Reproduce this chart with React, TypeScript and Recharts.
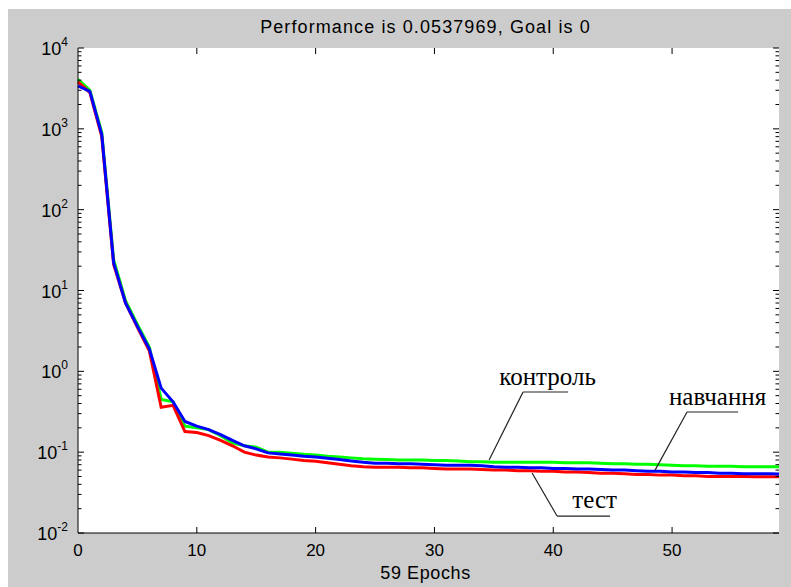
import React from 'react';
import { LineChart, Line, XAxis, YAxis, ReferenceLine, ReferenceDot } from 'recharts';

const epochs = [0,1,2,3,4,5,6,7,8,9,10,11,12,13,14,15,16,17,18,19,20,21,22,23,24,25,26,27,28,29,30,31,32,33,34,35,36,37,38,39,40,41,42,43,44,45,46,47,48,49,50,51,52,53,54,55,56,57,58,59];

const training = [3400,2900,850,22,7,3.6,1.9,0.62,0.42,0.24,0.21,0.19,0.165,0.14,0.12,0.11,0.098,0.095,0.092,0.089,0.087,0.084,0.081,0.078,0.075,0.073,0.073,0.072,0.072,0.071,0.07,0.069,0.069,0.069,0.068,0.066,0.065,0.065,0.064,0.064,0.063,0.063,0.062,0.062,0.061,0.06,0.06,0.059,0.058,0.058,0.057,0.057,0.056,0.056,0.055,0.055,0.054,0.054,0.054,0.0538];

const validation = [4100,3000,900,24,7.5,3.8,2.0,0.45,0.42,0.21,0.2,0.19,0.16,0.13,0.12,0.115,0.1,0.1,0.097,0.094,0.092,0.089,0.087,0.085,0.083,0.082,0.081,0.08,0.08,0.08,0.079,0.079,0.078,0.076,0.076,0.075,0.075,0.075,0.075,0.075,0.075,0.074,0.074,0.074,0.073,0.072,0.072,0.071,0.071,0.07,0.069,0.068,0.068,0.067,0.067,0.067,0.066,0.066,0.066,0.066];

const test = [3800,2800,800,21,7,3.5,1.8,0.36,0.38,0.18,0.175,0.16,0.14,0.12,0.1,0.092,0.087,0.085,0.082,0.079,0.077,0.074,0.071,0.068,0.066,0.065,0.065,0.065,0.064,0.064,0.063,0.062,0.062,0.062,0.061,0.06,0.06,0.059,0.059,0.058,0.058,0.057,0.057,0.056,0.055,0.055,0.054,0.053,0.053,0.052,0.052,0.051,0.051,0.05,0.05,0.05,0.05,0.0495,0.0495,0.0495];

const xTicks = [0,10,20,30,40,50];
const xInnerTicks = [10,20,30,40,50];
const yMajorTicks = [0.01,0.1,1,10,100,1000,10000];
const minorMultipliers = [2,3,4,5,6,7,8,9];
const yMinorTicks: number[] = [];
yMajorTicks.slice(0, 6).forEach(d => minorMultipliers.forEach(m => yMinorTicks.push(Number((m * d).toPrecision(3)))));

const titleText = 'Performance is 0.0537969, Goal is 0';
const xLabelText = '59 Epochs';

const labelControl = { text: 'контроль', x: 39.52, y: 0.678 };
const labelTrain = { text: 'навчання', x: 53.83, y: 0.383 };
const labelTest = { text: 'тест', x: 43.48, y: 0.02037 };

const leaderControl = [{ x: 34.6, y: 0.08 }, { x: 37.46, y: 0.555 }, { x: 41.25, y: 0.555 }];
const leaderTrain = [{ x: 48.57, y: 0.06 }, { x: 51.26, y: 0.314 }, { x: 55.56, y: 0.314 }];
const leaderTest = [{ x: 38.22, y: 0.0552 }, { x: 40.32, y: 0.01621 }, { x: 44.78, y: 0.01621 }];

const data = epochs.map((e, i) => ({ epoch: e, train: training[i], val: validation[i], test: test[i] }));

const X_MIN = 0, X_MAX = 59, Y_MIN = 0.01, Y_MAX = 10000;
const W = 783;
const H = 578;
const M = { top: 39, right: 12, left: 0, bottom: 0 };
const plotLeft = 70;
const plotRight = W - M.right;
const plotBottomGap = 54;
const plotH = H - M.top - plotBottomGap;
const MAJ = 6;
const MIN = 3.5;
const pxPerX = (plotRight - plotLeft) / (X_MAX - X_MIN);
const pxPerDecade = plotH / Math.log10(Y_MAX / Y_MIN);
const dxMaj = MAJ / pxPerX, dxMin = MIN / pxPerX;
const yFactor = Math.pow(10, MAJ / pxPerDecade);

const FONT = '"Liberation Sans", Arial, sans-serif';
const SERIF = '"Liberation Serif", "Times New Roman", serif';

const LeftLabel = (props: any) => {
  const { x, y, payload } = props;
  const e = Math.round(Math.log10(payload.value));
  return (
    <text x={x - 10} y={y + 7} textAnchor="end" fontSize={18} fill="#000" fontFamily={FONT}>
      10<tspan dy={-9} fontSize={12}>{String(e)}</tspan>
    </text>
  );
};

const BottomLabel = (props: any) => {
  const { x, y, payload } = props;
  return (
    <text x={x} y={y + 23} textAnchor="middle" fontSize={17} fill="#000" fontFamily={FONT}>
      {String(payload.value)}
    </text>
  );
};

const EmptyTick = () => <g />;

const makeTextShape = (text: string) => (props: any) => (
  <text x={props.cx} y={props.cy} textAnchor="middle" fontSize={25} fill="#000" fontFamily={SERIF}>
    {text}
  </text>
);

const tickStroke = { stroke: '#000', strokeWidth: 1 };

export default function App() {
  const lineStroke = '#222';
  const tickLines: React.ReactNode[] = [];
  yMajorTicks.forEach((v, i) => {
    tickLines.push(<ReferenceLine key={'lM' + i} segment={[{ x: X_MIN, y: v }, { x: X_MIN + dxMaj, y: v }]} {...tickStroke} />);
    tickLines.push(<ReferenceLine key={'rM' + i} segment={[{ x: X_MAX - dxMaj, y: v }, { x: X_MAX, y: v }]} {...tickStroke} />);
  });
  yMinorTicks.forEach((v, i) => {
    tickLines.push(<ReferenceLine key={'lm' + i} segment={[{ x: X_MIN, y: v }, { x: X_MIN + dxMin, y: v }]} {...tickStroke} />);
    tickLines.push(<ReferenceLine key={'rm' + i} segment={[{ x: X_MAX - dxMin, y: v }, { x: X_MAX, y: v }]} {...tickStroke} />);
  });
  xInnerTicks.forEach((t, i) => {
    tickLines.push(<ReferenceLine key={'b' + i} segment={[{ x: t, y: Y_MIN }, { x: t, y: Y_MIN * yFactor }]} {...tickStroke} />);
    tickLines.push(<ReferenceLine key={'t' + i} segment={[{ x: t, y: Y_MAX / yFactor }, { x: t, y: Y_MAX }]} {...tickStroke} />);
  });
  return (
    <div style={{ position: 'fixed', left: 8, top: 9, right: 0, bottom: 0, background: '#cccccc', overflow: 'hidden' }}>
      <div style={{ position: 'absolute', left: plotLeft, top: M.top, width: plotRight - plotLeft, height: plotH, background: '#ffffff' }} />
      <div style={{ position: 'absolute', left: 0, top: 0 }}>
        <LineChart width={W} height={H} data={data} margin={M}>
          <XAxis dataKey="epoch" type="number" domain={[X_MIN, X_MAX]} ticks={xTicks} interval={0}
            tickSize={0} tickMargin={0} tickLine={false} height={plotBottomGap} axisLine={{ stroke: '#000' }} tick={<BottomLabel />} />
          <XAxis xAxisId="top" orientation="top" dataKey="epoch" type="number" domain={[X_MIN, X_MAX]}
            tickSize={0} tickMargin={0} tickLine={false} height={0} axisLine={{ stroke: '#000' }} tick={<EmptyTick />} />
          <YAxis scale="log" type="number" domain={[Y_MIN, Y_MAX]} allowDataOverflow ticks={yMajorTicks} interval={0}
            tickSize={0} tickMargin={0} tickLine={false} width={plotLeft} axisLine={{ stroke: '#000' }} tick={<LeftLabel />} />
          <YAxis yAxisId="right" orientation="right" scale="log" type="number" domain={[Y_MIN, Y_MAX]} allowDataOverflow
            tickSize={0} tickMargin={0} tickLine={false} width={0} axisLine={{ stroke: '#000' }} tick={<EmptyTick />} />
          <Line dataKey="val" stroke="#00ff00" strokeWidth={3} dot={false} isAnimationActive={false} type="linear" />
          <Line dataKey="test" stroke="#ff0000" strokeWidth={3} dot={false} isAnimationActive={false} type="linear" />
          <Line dataKey="train" stroke="#0000ff" strokeWidth={3} dot={false} isAnimationActive={false} type="linear" />
          {tickLines}
          <ReferenceLine segment={[leaderControl[0], leaderControl[1]]} stroke={lineStroke} strokeWidth={1.2} />
          <ReferenceLine segment={[leaderControl[1], leaderControl[2]]} stroke={lineStroke} strokeWidth={1.2} />
          <ReferenceLine segment={[leaderTrain[0], leaderTrain[1]]} stroke={lineStroke} strokeWidth={1.2} />
          <ReferenceLine segment={[leaderTrain[1], leaderTrain[2]]} stroke={lineStroke} strokeWidth={1.2} />
          <ReferenceLine segment={[leaderTest[0], leaderTest[1]]} stroke={lineStroke} strokeWidth={1.2} />
          <ReferenceLine segment={[leaderTest[1], leaderTest[2]]} stroke={lineStroke} strokeWidth={1.2} />
          <ReferenceDot x={labelControl.x} y={labelControl.y} r={0} shape={makeTextShape(labelControl.text)} />
          <ReferenceDot x={labelTrain.x} y={labelTrain.y} r={0} shape={makeTextShape(labelTrain.text)} />
          <ReferenceDot x={labelTest.x} y={labelTest.y} r={0} shape={makeTextShape(labelTest.text)} />
        </LineChart>
      </div>
      <svg width={W} height={H} style={{ position: 'absolute', left: 0, top: 0, pointerEvents: 'none' }}>
        <text x={(plotLeft + plotRight) / 2 - 3} y={24} textAnchor="middle" fontSize={18} letterSpacing={1.1} fill="#000" fontFamily={FONT}>{titleText}</text>
        <text x={(plotLeft + plotRight) / 2 - 3} y={570} textAnchor="middle" fontSize={18} letterSpacing={0.6} fill="#000" fontFamily={FONT}>{xLabelText}</text>
      </svg>
    </div>
  );
}
